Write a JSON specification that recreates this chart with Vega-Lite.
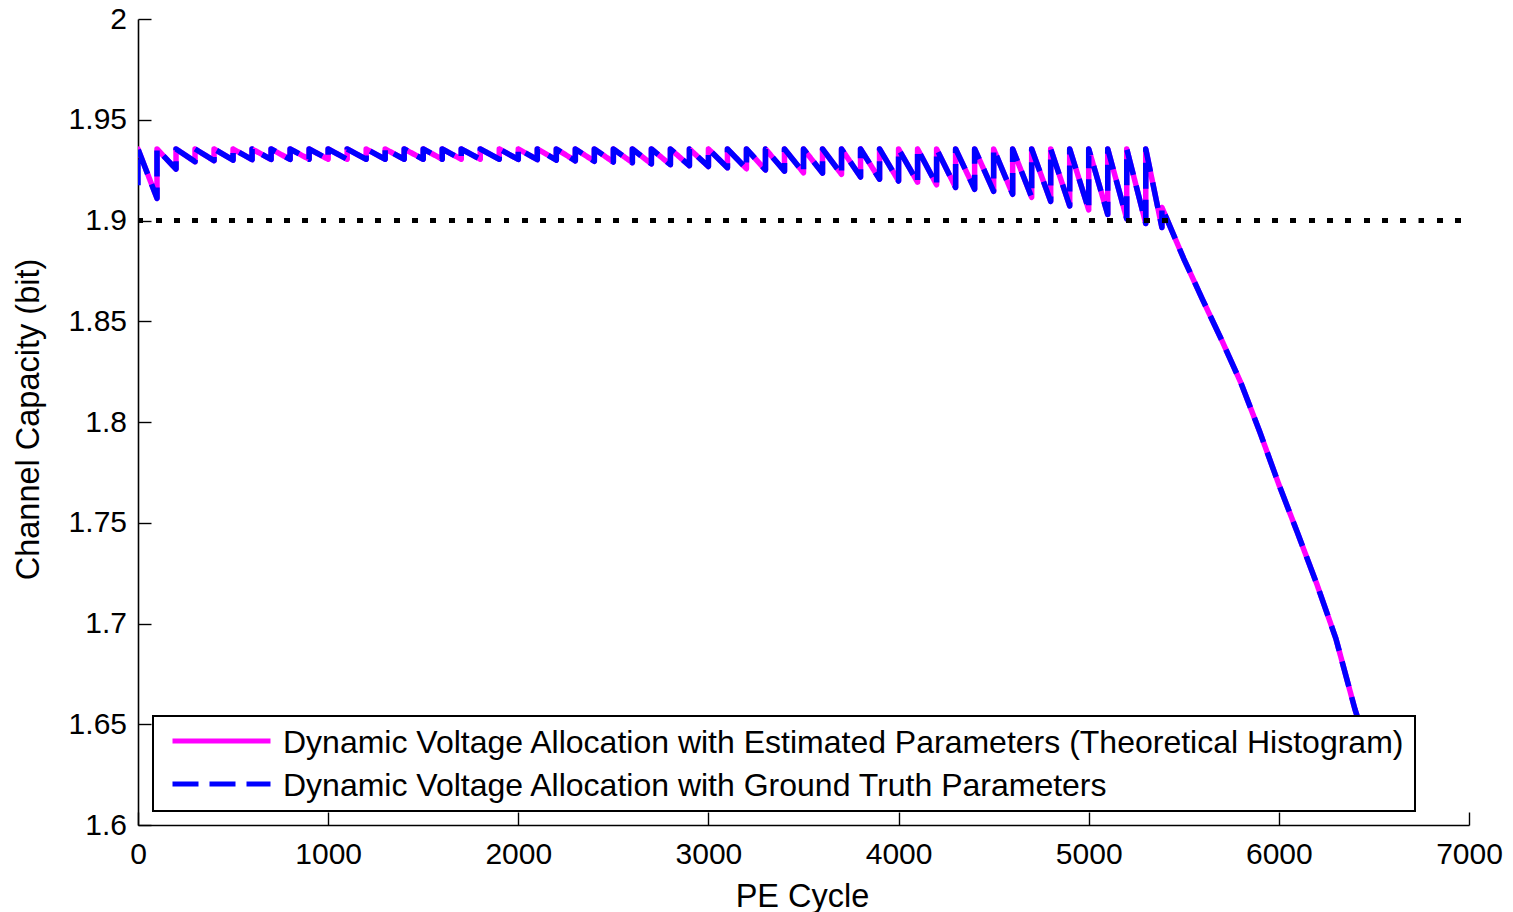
{
  "$schema": "https://vega.github.io/schema/vega-lite/v6.json",
  "width": 1331,
  "height": 806,
  "autosize": {"type": "none"},
  "padding": {"left": 138, "top": 19, "right": 44, "bottom": 87},
  "background": "white",
  "config": {
    "view": {"stroke": null},
    "font": "Liberation Sans",
    "axis": {"grid": false, "domainColor": "black", "domainWidth": 1.6, "tickColor": "black", "tickWidth": 1.4, "labelColor": "black", "titleColor": "black", "titleFontWeight": "normal", "labelFontSize": 30, "titleFontSize": 32.5, "labelFlush": false, "labelOverlap": false, "tickSize": -13}
  },
  "datasets": {
    "cap": [
      {"i": 0, "x": 0, "e": null, "g": 1.9175},
      {"i": 1, "x": 0, "e": 1.9355, "g": 1.9355},
      {"i": 2, "x": 100, "e": 1.911, "g": 1.911},
      {"i": 3, "x": 100, "e": 1.9355, "g": 1.9355},
      {"i": 4, "x": 200, "e": 1.9255, "g": 1.9255},
      {"i": 5, "x": 200, "e": 1.9355, "g": 1.9355},
      {"i": 6, "x": 300, "e": 1.9292, "g": 1.9292},
      {"i": 7, "x": 300, "e": 1.9355, "g": 1.9355},
      {"i": 8, "x": 400, "e": 1.9297, "g": 1.9297},
      {"i": 9, "x": 400, "e": 1.9355, "g": 1.9355},
      {"i": 10, "x": 500, "e": 1.93, "g": 1.93},
      {"i": 11, "x": 500, "e": 1.9355, "g": 1.9355},
      {"i": 12, "x": 600, "e": 1.9302, "g": 1.9302},
      {"i": 13, "x": 600, "e": 1.9355, "g": 1.9355},
      {"i": 14, "x": 700, "e": 1.9303, "g": 1.9303},
      {"i": 15, "x": 700, "e": 1.9355, "g": 1.9355},
      {"i": 16, "x": 800, "e": 1.9303, "g": 1.9303},
      {"i": 17, "x": 800, "e": 1.9355, "g": 1.9355},
      {"i": 18, "x": 900, "e": 1.9304, "g": 1.9304},
      {"i": 19, "x": 900, "e": 1.9355, "g": 1.9355},
      {"i": 20, "x": 1000, "e": 1.9304, "g": 1.9304},
      {"i": 21, "x": 1000, "e": 1.9355, "g": 1.9355},
      {"i": 22, "x": 1100, "e": 1.9304, "g": 1.9304},
      {"i": 23, "x": 1100, "e": 1.9355, "g": 1.9355},
      {"i": 24, "x": 1200, "e": 1.9304, "g": 1.9304},
      {"i": 25, "x": 1200, "e": 1.9355, "g": 1.9355},
      {"i": 26, "x": 1300, "e": 1.9304, "g": 1.9304},
      {"i": 27, "x": 1300, "e": 1.9355, "g": 1.9355},
      {"i": 28, "x": 1400, "e": 1.9304, "g": 1.9304},
      {"i": 29, "x": 1400, "e": 1.9355, "g": 1.9355},
      {"i": 30, "x": 1500, "e": 1.9304, "g": 1.9304},
      {"i": 31, "x": 1500, "e": 1.9355, "g": 1.9355},
      {"i": 32, "x": 1600, "e": 1.9304, "g": 1.9304},
      {"i": 33, "x": 1600, "e": 1.9355, "g": 1.9355},
      {"i": 34, "x": 1700, "e": 1.9304, "g": 1.9304},
      {"i": 35, "x": 1700, "e": 1.9355, "g": 1.9355},
      {"i": 36, "x": 1800, "e": 1.9304, "g": 1.9304},
      {"i": 37, "x": 1800, "e": 1.9355, "g": 1.9355},
      {"i": 38, "x": 1900, "e": 1.9304, "g": 1.9304},
      {"i": 39, "x": 1900, "e": 1.9355, "g": 1.9355},
      {"i": 40, "x": 2000, "e": 1.9303, "g": 1.9303},
      {"i": 41, "x": 2000, "e": 1.9355, "g": 1.9355},
      {"i": 42, "x": 2100, "e": 1.9302, "g": 1.9302},
      {"i": 43, "x": 2100, "e": 1.9355, "g": 1.9355},
      {"i": 44, "x": 2200, "e": 1.93, "g": 1.93},
      {"i": 45, "x": 2200, "e": 1.9355, "g": 1.9355},
      {"i": 46, "x": 2300, "e": 1.9296, "g": 1.9296},
      {"i": 47, "x": 2300, "e": 1.9355, "g": 1.9355},
      {"i": 48, "x": 2400, "e": 1.9294, "g": 1.9294},
      {"i": 49, "x": 2400, "e": 1.9355, "g": 1.9355},
      {"i": 50, "x": 2500, "e": 1.929, "g": 1.929},
      {"i": 51, "x": 2500, "e": 1.9355, "g": 1.9355},
      {"i": 52, "x": 2600, "e": 1.9287, "g": 1.9287},
      {"i": 53, "x": 2600, "e": 1.9355, "g": 1.9355},
      {"i": 54, "x": 2700, "e": 1.9281, "g": 1.9281},
      {"i": 55, "x": 2700, "e": 1.9355, "g": 1.9355},
      {"i": 56, "x": 2800, "e": 1.9277, "g": 1.9277},
      {"i": 57, "x": 2800, "e": 1.9355, "g": 1.9355},
      {"i": 58, "x": 2900, "e": 1.9272, "g": 1.9272},
      {"i": 59, "x": 2900, "e": 1.9355, "g": 1.9355},
      {"i": 60, "x": 3000, "e": 1.9268, "g": 1.9268},
      {"i": 61, "x": 3000, "e": 1.9355, "g": 1.9355},
      {"i": 62, "x": 3100, "e": 1.9262, "g": 1.9262},
      {"i": 63, "x": 3100, "e": 1.9355, "g": 1.9355},
      {"i": 64, "x": 3200, "e": 1.9257, "g": 1.9257},
      {"i": 65, "x": 3200, "e": 1.9355, "g": 1.9355},
      {"i": 66, "x": 3300, "e": 1.9251, "g": 1.9251},
      {"i": 67, "x": 3300, "e": 1.9355, "g": 1.9355},
      {"i": 68, "x": 3400, "e": 1.9245, "g": 1.9245},
      {"i": 69, "x": 3400, "e": 1.9355, "g": 1.9355},
      {"i": 70, "x": 3500, "e": 1.9237, "g": 1.9237},
      {"i": 71, "x": 3500, "e": 1.9355, "g": 1.9355},
      {"i": 72, "x": 3600, "e": 1.9235, "g": 1.9235},
      {"i": 73, "x": 3600, "e": 1.9355, "g": 1.9355},
      {"i": 74, "x": 3700, "e": 1.9229, "g": 1.9229},
      {"i": 75, "x": 3700, "e": 1.9355, "g": 1.9355},
      {"i": 76, "x": 3800, "e": 1.9216, "g": 1.9216},
      {"i": 77, "x": 3800, "e": 1.9355, "g": 1.9355},
      {"i": 78, "x": 3900, "e": 1.9205, "g": 1.9205},
      {"i": 79, "x": 3900, "e": 1.9355, "g": 1.9355},
      {"i": 80, "x": 4000, "e": 1.9196, "g": 1.9196},
      {"i": 81, "x": 4000, "e": 1.9355, "g": 1.9355},
      {"i": 82, "x": 4100, "e": 1.919, "g": 1.919},
      {"i": 83, "x": 4100, "e": 1.9355, "g": 1.9355},
      {"i": 84, "x": 4200, "e": 1.9177, "g": 1.9177},
      {"i": 85, "x": 4200, "e": 1.9355, "g": 1.9355},
      {"i": 86, "x": 4300, "e": 1.9164, "g": 1.9164},
      {"i": 87, "x": 4300, "e": 1.9355, "g": 1.9355},
      {"i": 88, "x": 4400, "e": 1.9155, "g": 1.9155},
      {"i": 89, "x": 4400, "e": 1.9355, "g": 1.9355},
      {"i": 90, "x": 4500, "e": 1.9145, "g": 1.9145},
      {"i": 91, "x": 4500, "e": 1.9355, "g": 1.9355},
      {"i": 92, "x": 4600, "e": 1.913, "g": 1.913},
      {"i": 93, "x": 4600, "e": 1.9355, "g": 1.9355},
      {"i": 94, "x": 4700, "e": 1.9115, "g": 1.9115},
      {"i": 95, "x": 4700, "e": 1.9355, "g": 1.9355},
      {"i": 96, "x": 4800, "e": 1.9095, "g": 1.9095},
      {"i": 97, "x": 4800, "e": 1.9355, "g": 1.9355},
      {"i": 98, "x": 4900, "e": 1.9072, "g": 1.9072},
      {"i": 99, "x": 4900, "e": 1.9355, "g": 1.9355},
      {"i": 100, "x": 5000, "e": 1.9053, "g": 1.9053},
      {"i": 101, "x": 5000, "e": 1.9355, "g": 1.9355},
      {"i": 102, "x": 5100, "e": 1.903, "g": 1.903},
      {"i": 103, "x": 5100, "e": 1.9355, "g": 1.9355},
      {"i": 104, "x": 5200, "e": 1.9008, "g": 1.9008},
      {"i": 105, "x": 5200, "e": 1.9355, "g": 1.9355},
      {"i": 106, "x": 5300, "e": 1.8985, "g": 1.8985},
      {"i": 107, "x": 5300, "e": 1.9355, "g": 1.9355},
      {"i": 108, "x": 5385, "e": 1.8965, "g": 1.8965},
      {"i": 109, "x": 5385, "e": 1.9065, "g": 1.9065},
      {"i": 110, "x": 5500, "e": 1.881, "g": 1.881},
      {"i": 111, "x": 5600, "e": 1.8605, "g": 1.8605},
      {"i": 112, "x": 5700, "e": 1.8405, "g": 1.8405},
      {"i": 113, "x": 5800, "e": 1.8195, "g": 1.8195},
      {"i": 114, "x": 5900, "e": 1.795, "g": 1.795},
      {"i": 115, "x": 6000, "e": 1.769, "g": 1.769},
      {"i": 116, "x": 6100, "e": 1.7445, "g": 1.7445},
      {"i": 117, "x": 6200, "e": 1.7195, "g": 1.7195},
      {"i": 118, "x": 6300, "e": 1.6925, "g": 1.6925},
      {"i": 119, "x": 6400, "e": 1.6575, "g": 1.6575},
      {"i": 120, "x": 6480, "e": 1.634, "g": 1.634}
    ]
  },
  "data": {"name": "cap"},
  "encoding": {
    "x": {"field": "x", "type": "quantitative",
      "scale": {"domain": [0, 7000], "nice": false, "zero": false},
      "axis": {"values": [0, 1000, 2000, 3000, 4000, 5000, 6000, 7000], "format": "d", "labelPadding": 27, "title": "PE Cycle", "titleX": 664, "titleY": 81, "titleBaseline": "alphabetic", "titleAlign": "center"}},
    "order": {"field": "i", "type": "quantitative"}
  },
  "layer": [
    {
      "mark": {"type": "line", "strokeWidth": 5.5, "strokeJoin": "round", "strokeCap": "round", "clip": true},
      "encoding": {
        "y": {"field": "e", "type": "quantitative",
          "scale": {"domain": [1.6, 2], "nice": false, "zero": false},
          "axis": {"values": [1.6, 1.65, 1.7, 1.75, 1.8, 1.85, 1.9, 1.95, 2], "format": "~g", "labelPadding": 24.5, "title": "Channel Capacity (bit)", "titleX": -100, "titleY": 400, "titleAngle": -90, "titleBaseline": "alphabetic", "titleAlign": "center"}},
        "color": {"datum": "Dynamic Voltage Allocation with Estimated Parameters (Theoretical Histogram)", "type": "nominal",
          "scale": {"domain": ["Dynamic Voltage Allocation with Estimated Parameters (Theoretical Histogram)", "Dynamic Voltage Allocation with Ground Truth Parameters"], "range": ["#ff00ff", "#0000ff"]},
          "legend": {"title": null, "orient": "none", "legendX": 15, "legendY": 697, "direction": "vertical", "fillColor": "white", "strokeColor": "black", "padding": 9, "rowPadding": 9, "symbolType": "M-4.9,0H4.9", "symbolSize": 400, "symbolStrokeWidth": 5, "symbolOffset": 43.5, "labelOffset": 45.5, "labelFontSize": 32, "labelColor": "black", "labelLimit": 0, "encode": {"legend": {"update": {"strokeWidth": {"value": 2}}}, "labels": {"update": {"dy": {"value": 2}}}}}},
        "strokeDash": {"datum": "Dynamic Voltage Allocation with Estimated Parameters (Theoretical Histogram)", "type": "nominal",
          "scale": {"domain": ["Dynamic Voltage Allocation with Estimated Parameters (Theoretical Histogram)", "Dynamic Voltage Allocation with Ground Truth Parameters"], "range": [[1, 0], [26, 11]]},
          "legend": {"title": null, "orient": "none", "legendX": 15, "legendY": 697, "direction": "vertical", "fillColor": "white", "strokeColor": "black", "padding": 9, "rowPadding": 9, "symbolType": "M-4.9,0H4.9", "symbolSize": 400, "symbolStrokeWidth": 5, "symbolOffset": 43.5, "labelOffset": 45.5, "labelFontSize": 32, "labelColor": "black", "labelLimit": 0, "encode": {"legend": {"update": {"strokeWidth": {"value": 2}}}, "labels": {"update": {"dy": {"value": 2}}}}}}
      }
    },
    {
      "mark": {"type": "line", "strokeWidth": 5.5, "strokeJoin": "round", "strokeCap": "butt", "clip": true},
      "encoding": {
        "y": {"field": "g", "type": "quantitative"},
        "color": {"datum": "Dynamic Voltage Allocation with Ground Truth Parameters", "type": "nominal"},
        "strokeDash": {"datum": "Dynamic Voltage Allocation with Ground Truth Parameters", "type": "nominal"}
      }
    },
    {
      "mark": {"type": "rule", "color": "black", "strokeWidth": 5, "strokeDash": [5, 13.3], "strokeCap": "butt"},
      "encoding": {"y": {"datum": 1.9, "type": "quantitative"}, "x": {"value": 0}, "x2": {"value": 1331}}
    }
  ]
}
